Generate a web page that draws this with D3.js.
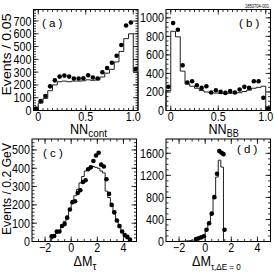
<!DOCTYPE html>
<html>
<head>
<meta charset="utf-8">
<script src="https://cdn.jsdelivr.net/npm/d3@7"></script>
<style>
  body { margin: 0; background: #fff; }
  text { font-family: "Liberation Sans", Arial, sans-serif; fill: #000; }
</style>
</head>
<body>
<svg id="fig" width="274" height="272"></svg>
<script>
// bin centres for the two NN panels (width 0.05)
var nnCenters = [-0.025, 0.025, 0.075, 0.125, 0.175, 0.225, 0.275, 0.325, 0.375, 0.425, 0.475,
  0.525, 0.575, 0.625, 0.675, 0.725, 0.775, 0.825, 0.875, 0.925, 0.975, 1.025];
// (a) NN_cont : data points and MC histogram
var dataA = [15, 73, 113, 189, 236, 265, 273, 265, 250, 250, 252, 276, 258, 250, 299, 333, 373, 428, 512, 665, 688, 325];
var mcA = [10, 58, 95, 155, 200, 225, 230, 225, 230, 230, 232, 240, 236, 240, 262, 292, 322, 380, 462, 562, 600, 300];
// (b) NN_BB
var dataB = [255, 943, 872, 487, 302, 316, 273, 244, 262, 195, 219, 201, 190, 209, 195, 227, 255, 244, 316, 316, 137, 24];
var mcB = [215, 855, 795, 425, 285, 262, 240, 215, 200, 192, 188, 186, 185, 186, 188, 192, 205, 220, 240, 250, 262, 5];

// (c) delta M_tau, bins of 0.2 GeV
var dmCenters = [-1.5, -1.3, -1.1, -0.9, -0.7, -0.5, -0.3, -0.1, 0.1, 0.3, 0.5, 0.7, 0.9, 1.1, 1.3, 1.5,
  1.7, 1.9, 2.1, 2.3, 2.5, 2.7, 2.9, 3.1, 3.3, 3.5, 3.7, 3.9, 4.1, 4.3, 4.5];
var dataC = [28, 30, 55, 55, 85, 95, 130, 175, 215, 220, 265, 280, 325, 335, 395, 405,
  440, 470, 485, 420, 410, 340, 260, 200, 160, 115, 85, 55, 35, 25, 10];
var mcC = [15, 30, 45, 60, 80, 110, 140, 180, 215, 250, 285, 320, 355, 385, 400, 410,
  410, 405, 400, 385, 375, 275, 240, 195, 150, 110, 75, 50, 30, 15, 5];

// (d) delta M_tau at delta E = 0
var dmdCenters = [-1.9, -1.7, -1.5, -1.3, -1.1, -0.9, -0.7, -0.5, -0.3, -0.1, 0.1, 0.3, 0.5, 0.7, 0.9, 1.1, 1.3, 1.5];
var mcD = [3, 5, 8, 12, 18, 25, 35, 50, 70, 100, 200, 320, 495, 780, 1170, 1475, 1350, 0];
var dotXD = [-0.7, -0.5, -0.3, -0.1, 0.1, 0.3, 0.5, 0.7, 0.9, 1.08, 1.25, 1.4, 1.48];
var dataD = [45, 60, 75, 95, 213, 330, 505, 805, 1230, 1640, 1610, 1585, 213];

var svg = d3.select("#fig");

// text squeezed a little horizontally, like the narrow font of the original
function label(g, x, y, txt, size, anchor, sx) {
  return g.append("text")
    .attr("transform", "translate(" + x + "," + y + ") scale(" + (sx || 1) + ",1)")
    .attr("text-anchor", anchor || "start")
    .style("font-size", size + "px")
    .text(txt);
}

function drawPanel(p) {
  var x = d3.scaleLinear().domain(p.xDom).range([p.left, p.right]);
  var y = d3.scaleLinear().domain(p.yDom).range([p.bottom, p.top]);
  var g = svg.append("g");

  // frame ticks, inside, on all four sides
  var ticks = g.append("g").attr("stroke", "#000").attr("stroke-width", 0.8);
  function xTicks(vals, len) {
    vals.forEach(function(v) {
      var px = x(v);
      if (px < p.left + 0.5 || px > p.right - 0.5) return;
      ticks.append("line").attr("x1", px).attr("x2", px).attr("y1", p.bottom).attr("y2", p.bottom - len);
      ticks.append("line").attr("x1", px).attr("x2", px).attr("y1", p.top).attr("y2", p.top + len);
    });
  }
  function yTicks(vals, len) {
    vals.forEach(function(v) {
      var py = y(v);
      if (py > p.bottom - 0.5 || py < p.top + 0.5) return;
      ticks.append("line").attr("y1", py).attr("y2", py).attr("x1", p.left).attr("x2", p.left + len);
      ticks.append("line").attr("y1", py).attr("y2", py).attr("x1", p.right).attr("x2", p.right - len);
    });
  }
  xTicks(d3.range(p.xDom[0], p.xDom[1] + 1e-9, p.xMinor), 2.5);
  xTicks(p.xMajor, 5);
  yTicks(d3.range(0, p.yDom[1], p.yMinor), 2.5);
  yTicks(p.yMajor, 5);

  // MC histogram as steps
  var w = p.binW;
  var pts = [[x(p.hx[0] - w / 2), y(0)]];
  p.hx.forEach(function(c, i) {
    pts.push([x(c - w / 2), y(p.hv[i])]);
    pts.push([x(c + w / 2), y(p.hv[i])]);
  });
  pts.push([x(p.hx[p.hx.length - 1] + w / 2), y(0)]);
  g.append("path")
    .attr("d", d3.line()(pts))
    .attr("fill", "none")
    .attr("stroke", "#222")
    .attr("stroke-width", 1);

  // data points
  g.selectAll(".dot")
    .data(p.dx.map(function(d, i) { return [d, p.dv[i]]; }))
    .enter().append("circle")
    .attr("cx", function(d) { return x(d[0]); })
    .attr("cy", function(d) { return y(d[1]); })
    .attr("r", 2.3)
    .attr("fill", "#000");

  g.append("rect")
    .attr("x", p.left).attr("y", p.top)
    .attr("width", p.right - p.left).attr("height", p.bottom - p.top)
    .attr("fill", "none").attr("stroke", "#000").attr("stroke-width", 1);

  // tick labels
  p.yMajor.forEach(function(v) {
    label(g, p.left - 2, y(v) + 4.5, v, 12.5, "end", 0.86);
  });
  p.xMajor.forEach(function(v) {
    var s = p.xFmt ? p.xFmt(v) : String(v).replace("-", "\u2212");
    label(g, x(v), p.bottom + p.tickDy, s, 12.5, "middle", 0.86);
  });

  label(g, p.tagX, p.tagY, p.tag, 11.5, "start", 1).attr("xml:space", "preserve");

  var t = label(g, p.titleX, p.bottom + p.titleDy, "", 14, "start", 0.9);
  t.append("tspan").text(p.title);
  t.append("tspan").attr("dy", 3.5).style("font-size", p.subSize + "px").text(p.sub);
}

function nnFmt(v) { return v === 1 ? "1.0" : String(v); }

drawPanel({
  left: 33.5, right: 138, top: 9.5, bottom: 110.5,
  xDom: [-0.05, 1.05], yDom: [0, 790],
  xMajor: [0, 0.5, 1], xMinor: 0.05, xFmt: nnFmt, tickDy: 10.5,
  yMajor: [0, 100, 200, 300, 400, 500, 600, 700], yMinor: 20,
  binW: 0.05, hx: nnCenters, hv: mcA, dx: nnCenters, dv: dataA,
  tag: "( a )", tagX: 42, tagY: 27,
  title: "NN", sub: "cont", subSize: 11, titleX: 70, titleDy: 23
});
drawPanel({
  left: 166, right: 270.5, top: 9.5, bottom: 110.5,
  xDom: [-0.05, 1.05], yDom: [0, 1090],
  xMajor: [0, 0.5, 1], xMinor: 0.05, xFmt: nnFmt, tickDy: 10.5,
  yMajor: [0, 200, 400, 600, 800, 1000], yMinor: 50,
  binW: 0.05, hx: nnCenters, hv: mcB, dx: nnCenters, dv: dataB,
  tag: "( b )", tagX: 239, tagY: 27,
  title: "NN", sub: "BB", subSize: 10, titleX: 208.5, titleDy: 23
});
drawPanel({
  left: 32, right: 136.5, top: 139, bottom: 241.5,
  xDom: [-3, 5], yDom: [0, 560],
  xMajor: [-2, 0, 2, 4], xMinor: 0.5, tickDy: 10.5,
  yMajor: [0, 100, 200, 300, 400, 500], yMinor: 20,
  binW: 0.2, hx: dmCenters, hv: mcC, dx: dmCenters, dv: dataC,
  tag: "( c )", tagX: 43, tagY: 156.5,
  title: "\u0394M", sub: "\u03c4", subSize: 11, titleX: 73.5, titleDy: 24.5
});
drawPanel({
  left: 166, right: 270.5, top: 139, bottom: 241.5,
  xDom: [-3, 5], yDom: [0, 1860],
  xMajor: [-2, 0, 2, 4], xMinor: 0.5, tickDy: 10.5,
  yMajor: [0, 400, 800, 1200, 1600], yMinor: 100,
  binW: 0.2, hx: dmdCenters, hv: mcD, dx: dotXD, dv: dataD,
  tag: "( d )", tagX: 237, tagY: 153,
  title: "\u0394M", sub: "\u03c4,\u0394E = 0", subSize: 9, titleX: 192, titleDy: 24.5
});

// y axis titles
svg.append("text").attr("transform", "translate(11,54.5) rotate(-90)")
  .attr("text-anchor", "middle").style("font-size", "12px")
  .attr("textLength", 82).attr("lengthAdjust", "spacingAndGlyphs")
  .text("Events / 0.05");
svg.append("text").attr("transform", "translate(11,189) rotate(-90)")
  .attr("text-anchor", "middle").style("font-size", "12px")
  .attr("textLength", 92).attr("lengthAdjust", "spacingAndGlyphs")
  .text("Events / 0.2 GeV");

svg.append("text").attr("x", 245).attr("y", 7.5)
  .style("font-size", "6px")
  .attr("textLength", 24).attr("lengthAdjust", "spacingAndGlyphs")
  .text("1850704-001");
</script>
</body>
</html>
